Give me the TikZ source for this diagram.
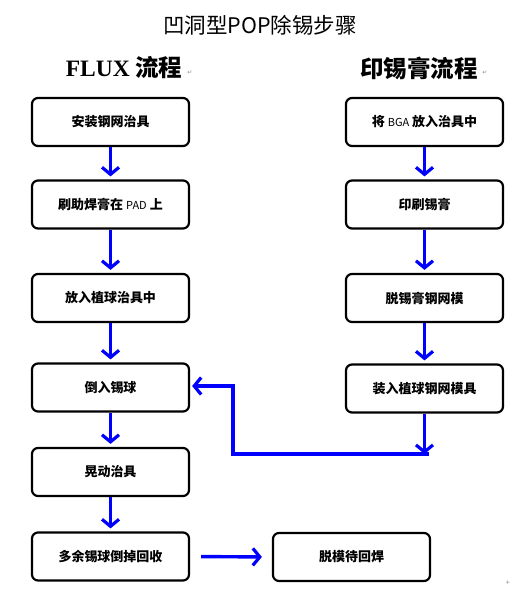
\documentclass[tikz,border=0pt]{standalone}
\usepackage{fontspec}
\setmainfont{Noto Sans CJK SC}
\newfontfamily\tnr{Liberation Serif}
\newfontfamily\dvs{DejaVu Sans}
\usepackage{tikz}
\usetikzlibrary{positioning}
\usetikzlibrary{arrows.meta,calc}
\tikzstyle{stepbox}=[rectangle,rounded corners=6pt,draw=black,line width=2.2pt,fill=white,minimum width=157pt,minimum height=48pt,inner sep=0pt,font=\fontsize{13}{13}\selectfont\bfseries]
\tikzstyle{flow} = [draw,blue,line width=3.4pt,-{Straight Barb[length=7pt,width=17pt,line width=3.2pt]}]
\tikzstyle{flowline} = [draw,blue,line width=3.4pt]
\tikzstyle{heading} = [font=\fontsize{23.5}{23.5}\selectfont\bfseries]
\tikzstyle{wordmark} = [font=\dvs\fontsize{6}{6}\selectfont,text=black!45,inner sep=0pt]
\newcommand{\latw}[1]{{\mdseries\fontsize{11}{11}\selectfont #1}}

\begin{document}
\begin{tikzpicture}[x=1pt,y=-1pt]
    \useasboundingbox (0,0) rectangle (523,595);
    % Title and the two column headings
    \node (title) at (260,25) {\fontsize{21.5}{21.5}\selectfont 凹洞型POP除锡步骤};
    \node[heading] (hflux) at (124,68) {{\tnr FLUX} 流程};
    \node[heading] (hpaste) at (419,68) {印锡膏流程};
    \node[wordmark] (retA) at (190,73) {↵};
    \node[wordmark] (retB) at (485,73) {↵};
    \node[wordmark] (anchor) at (508,583) {+};

    % First we draw the boxes
    \foreach \pos/\name/\label in {{(110.5,122)/F1/安装钢网治具}, {(110.5,204.5)/F2/{刷助焊膏在 \latw{PAD} 上}}, {(110.5,298)/F3/放入植球治具中}, {(110.5,387.5)/F4/倒入锡球}, {(110.5,472)/F5/晃动治具}, {(110.5,556.5)/F6/多余锡球倒掉回收}, {(424.5,122)/P1/{将 \latw{BGA} 放入治具中\hspace{20pt}}}, {(424.5,204.5)/P2/印刷锡膏}, {(424.5,298)/P3/脱锡膏钢网模}, {(424.5,388.5)/P4/装入植球钢网模具}, {(351.5,557)/done/脱模待回焊}}
        \node[stepbox] (\name) at \pos {\label};

    % Connect boxes with arrows
    \foreach \source/ \dest in {F1/F2, F2/F3, F3/F4, F4/F5, F5/F6, P1/P2, P2/P3, P3/P4}
        \path[flow, shorten >=3pt] (\source) -- (\dest);

    % Paste flow joins the FLUX flow
    \coordinate (turn) at (427,454);
    \coordinate (mid) at (233,386);
    \path[flow] (P4.south) -- (P4.south |- turn);
    \path[flowline, line cap=rect] (turn) -| (mid);
    \path[flow, shorten >=2pt] (mid) -- (F4.east |- mid);
    \path[flow, shorten <=11pt, shorten >=10pt] (F6.east) -- (done.west);
\end{tikzpicture}
\end{document}
